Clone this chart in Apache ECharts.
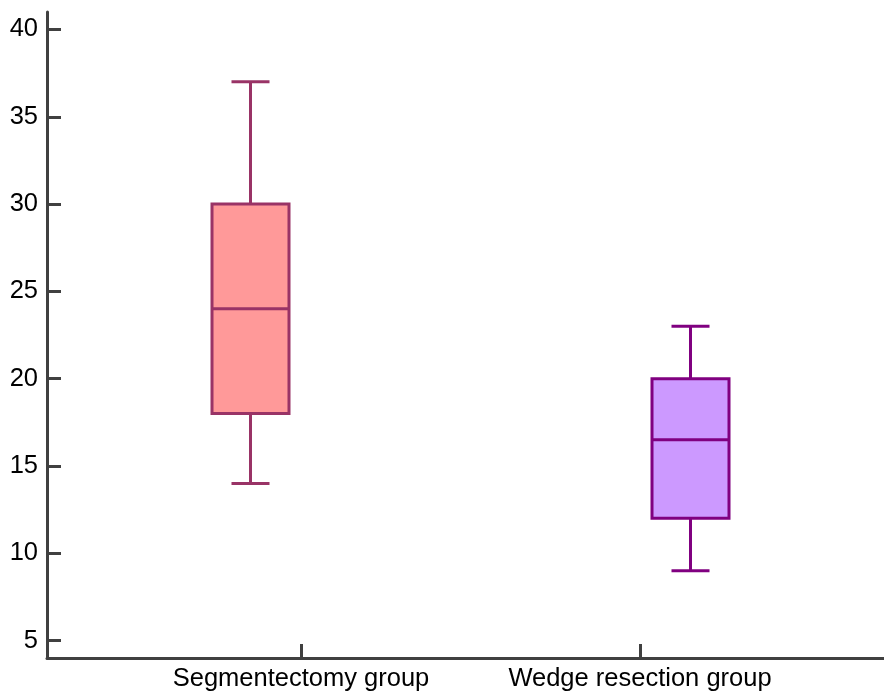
<!DOCTYPE html>
<html><head><meta charset="utf-8">
<script src="https://cdn.jsdelivr.net/npm/echarts@6/dist/echarts.min.js"></script>
<style>html,body{margin:0;padding:0;background:#fff}#c{width:884px;height:693px}</style>
</head><body><div id="c"></div>
<script>
// ---- data ----
const categories = ['Segmentectomy group', 'Wedge resection group'];
const mins = [14, 9];
const q1s = [18, 12];
const medians = [24, 16.5];
const q3s = [30, 20];
const maxs = [37, 23];
const yTicks = [5, 10, 15, 20, 25, 30, 35, 40];
const yMin = 4, yMax = 41;

// ---- styles ----
const fills = ['#FF9999', '#CC99FF'];
const strokes = ['#993366', '#800080'];
const axisColor = '#404040';
const font = 'Liberation Sans, Arial, sans-serif';

const boxData = categories.map((c, i) => [i, mins[i], q1s[i], medians[i], q3s[i], maxs[i]]);

const chart = echarts.init(document.getElementById('c'), null, {renderer: 'canvas'});
chart.setOption({
  animation: false,
  backgroundColor: '#fff',
  grid: [
    {left: 47, right: 0, top: 12, bottom: 35, outerBoundsMode: 'none', containLabel: false},
    {left: 30.5, width: 880, top: 12, bottom: 35, outerBoundsMode: 'none', containLabel: false},
    {left: 131.5, width: 678, top: 12, bottom: 35, outerBoundsMode: 'none', containLabel: false}
  ],
  xAxis: [
    {gridIndex: 0, type: 'category', data: [''], axisLine: {lineStyle: {color: axisColor, width: 3}},
     axisTick: {show: false}, axisLabel: {show: false}, splitLine: {show: false}},
    {gridIndex: 1, type: 'category', data: categories, show: false},
    {gridIndex: 2, type: 'category', data: categories, axisLine: {show: false},
     axisTick: {show: true, inside: true, length: 14, alignWithLabel: true, lineStyle: {color: axisColor, width: 3}},
     axisLabel: {fontSize: 25.5, color: '#000', fontFamily: font, margin: 8, interval: 0}, splitLine: {show: false}}
  ],
  yAxis: [
    {gridIndex: 0, type: 'value', min: yMin, max: yMax,
     axisLine: {show: true, lineStyle: {color: axisColor, width: 3}},
     axisTick: {show: true, inside: true, length: 14, customValues: yTicks, lineStyle: {color: axisColor, width: 3}},
     axisLabel: {fontSize: 25.5, color: '#000', fontFamily: font, margin: 9, customValues: yTicks},
     splitLine: {show: false}},
    {gridIndex: 1, type: 'value', min: yMin, max: yMax, show: false},
    {gridIndex: 2, type: 'value', min: yMin, max: yMax, show: false}
  ],
  series: [{
    type: 'custom',
    xAxisIndex: 1, yAxisIndex: 1,
    clip: false,
    data: boxData,
    encode: {x: 0, y: [1, 2, 3, 4, 5]},
    renderItem: function (params, api) {
      const i = params.dataIndex;
      const x = api.value(0);
      const pMin = api.coord([x, api.value(1)]);
      const pQ1 = api.coord([x, api.value(2)]);
      const pMed = api.coord([x, api.value(3)]);
      const pQ3 = api.coord([x, api.value(4)]);
      const pMax = api.coord([x, api.value(5)]);
      const cx = pMin[0];
      const bw = 77, cw = 38;
      const ls = {stroke: strokes[i], lineWidth: 3};
      return {type: 'group', children: [
        {type: 'line', shape: {x1: cx, y1: pMax[1], x2: cx, y2: pQ3[1]}, style: ls},
        {type: 'line', shape: {x1: cx - cw / 2, y1: pMax[1], x2: cx + cw / 2, y2: pMax[1]}, style: ls},
        {type: 'line', shape: {x1: cx, y1: pQ1[1], x2: cx, y2: pMin[1]}, style: ls},
        {type: 'line', shape: {x1: cx - cw / 2, y1: pMin[1], x2: cx + cw / 2, y2: pMin[1]}, style: ls},
        {type: 'rect', shape: {x: cx - bw / 2, y: pQ3[1], width: bw, height: pQ1[1] - pQ3[1]},
         style: {fill: fills[i], stroke: strokes[i], lineWidth: 3}},
        {type: 'line', shape: {x1: cx - bw / 2, y1: pMed[1], x2: cx + bw / 2, y2: pMed[1]}, style: ls}
      ]};
    }
  }]
});
</script>
</body></html>
